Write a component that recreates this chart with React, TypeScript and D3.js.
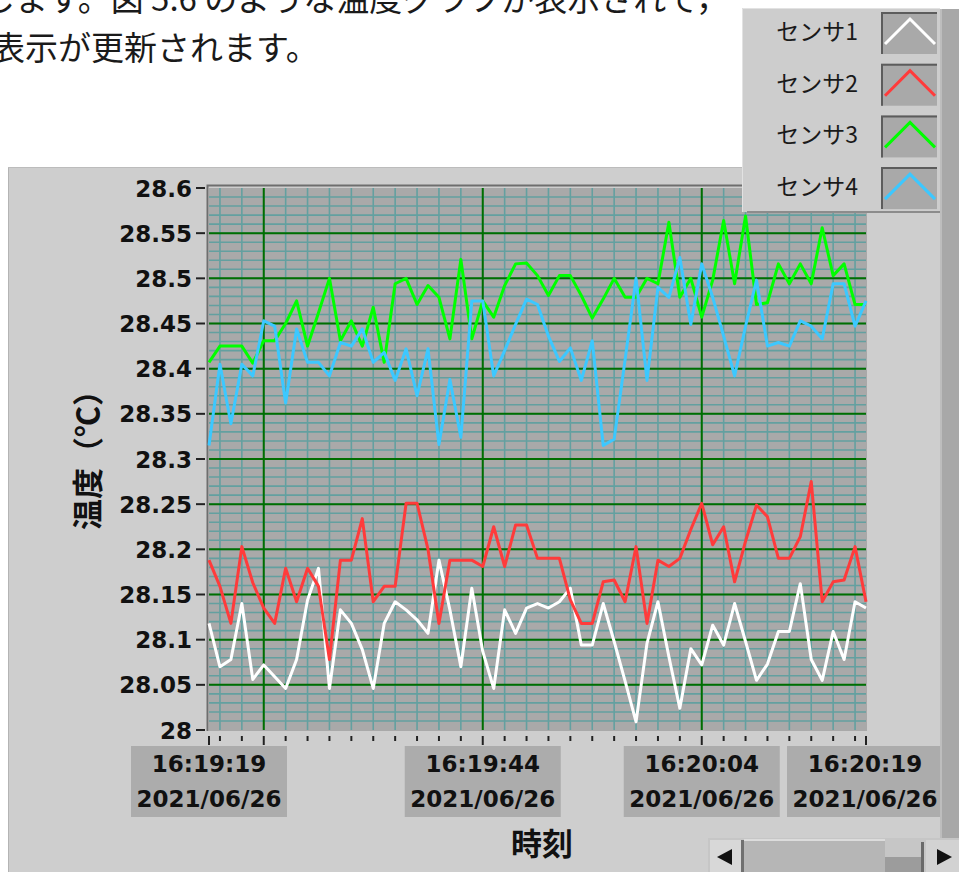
import React, { useEffect, useRef } from 'react'
import * as d3 from 'd3'

// sampling window of the graph (one sample per second)
const startTime = new Date(2021, 5, 26, 16, 19, 19)
const endTime = new Date(2021, 5, 26, 16, 20, 19)

const sensorNames = ['センサ1', 'センサ2', 'センサ3', 'センサ4']
const sensorColors = ['#ffffff', '#ff3b3b', '#00ff00', '#3cc8ff']

const sensor1 = [
  28.118, 28.07, 28.078, 28.14, 28.056, 28.072, 28.059, 28.046, 28.078, 28.144,
  28.179, 28.046, 28.133, 28.118, 28.089, 28.046, 28.118, 28.142, 28.133, 28.122,
  28.107, 28.188, 28.133, 28.07, 28.157, 28.087, 28.046, 28.133, 28.107, 28.135,
  28.14, 28.135, 28.142, 28.157, 28.094, 28.094, 28.14, 28.098, 28.054, 28.009,
  28.096, 28.142, 28.081, 28.024, 28.09, 28.072, 28.116, 28.094, 28.14, 28.098,
  28.055, 28.073, 28.109, 28.109, 28.162, 28.078, 28.055, 28.109, 28.078, 28.142,
  28.135,
]
const sensor2 = [
  28.188, 28.159, 28.118, 28.203, 28.163, 28.135, 28.118, 28.179, 28.142, 28.179,
  28.159, 28.078, 28.188, 28.188, 28.234, 28.142, 28.159, 28.159, 28.251, 28.251,
  28.2, 28.118, 28.188, 28.188, 28.188, 28.181, 28.225, 28.181, 28.227, 28.227,
  28.19, 28.19, 28.19, 28.144, 28.118, 28.118, 28.164, 28.166, 28.142, 28.203,
  28.118, 28.188, 28.181, 28.19, 28.222, 28.251, 28.205, 28.225, 28.164, 28.209,
  28.249, 28.236, 28.19, 28.19, 28.214, 28.275, 28.142, 28.164, 28.166, 28.203,
  28.142,
]
const sensor3 = [
  28.407, 28.425, 28.425, 28.425, 28.406, 28.431, 28.431, 28.45, 28.475, 28.425,
  28.462, 28.5, 28.431, 28.453, 28.425, 28.468, 28.407, 28.494, 28.5, 28.471,
  28.492, 28.479, 28.433, 28.521, 28.433, 28.475, 28.457, 28.492, 28.516, 28.517,
  28.503, 28.481, 28.503, 28.503, 28.481, 28.456, 28.477, 28.5, 28.479, 28.479,
  28.5, 28.494, 28.562, 28.479, 28.5, 28.457, 28.498, 28.564, 28.494, 28.569,
  28.471, 28.473, 28.516, 28.494, 28.516, 28.494, 28.556, 28.503, 28.516, 28.471,
  28.471,
]
const sensor4 = [
  28.315, 28.405, 28.339, 28.405, 28.392, 28.453, 28.447, 28.362, 28.444, 28.407,
  28.407, 28.392, 28.429, 28.425, 28.444, 28.407, 28.418, 28.387, 28.422, 28.37,
  28.422, 28.316, 28.388, 28.324, 28.475, 28.475, 28.392, 28.42, 28.449, 28.477,
  28.471, 28.436, 28.408, 28.423, 28.387, 28.431, 28.315, 28.322, 28.41, 28.5,
  28.387, 28.49, 28.479, 28.523, 28.449, 28.516, 28.479, 28.436, 28.392, 28.447,
  28.498, 28.425, 28.429, 28.425, 28.453, 28.447, 28.433, 28.494, 28.494, 28.447,
  28.475,
]

const yTicks = [28, 28.05, 28.1, 28.15, 28.2, 28.25, 28.3, 28.35, 28.4, 28.45, 28.5, 28.55, 28.6]
const xTickTimes = ['16:19:19', '16:19:44', '16:20:04', '16:20:19']
const xTickDate = '2021/06/26'

const W = 959
const H = 872
const numFont = '"DejaVu Sans", Verdana, sans-serif'
const jpFont = '"Noto Sans CJK JP", "Noto Sans", sans-serif'

export default function App() {
  const svgRef = useRef<SVGSVGElement>(null)

  useEffect(() => {
    if (!svgRef.current) return
    const svg = d3.select(svgRef.current)
    svg.selectAll('*').remove()

    // page text above the graph (cut off by the screenshot)
    svg.append('text').attr('x', -18).attr('y', 11)
      .attr('font-family', jpFont).attr('font-size', 33).attr('fill', '#1a1a1a')
      .text('します。図 5.6 のような温度グラフが表示されて，')
    svg.append('text').attr('x', -8).attr('y', 60)
      .attr('font-family', jpFont).attr('font-size', 33).attr('fill', '#1a1a1a')
      .text('表示が更新されます。')

    // graph panel
    svg.append('rect').attr('x', 8).attr('y', 167).attr('width', W - 8).attr('height', H - 167)
      .attr('fill', '#cecece')
    svg.append('line').attr('x1', 8.5).attr('x2', 8.5).attr('y1', 167).attr('y2', H)
      .attr('stroke', '#b4b4b4').attr('stroke-width', 1)
    svg.append('line').attr('x1', 8).attr('x2', W).attr('y1', 167.5).attr('y2', 167.5)
      .attr('stroke', '#bcbcbc').attr('stroke-width', 1)

    const x = d3.scaleTime().domain([startTime, endTime]).range([209, 866])
    const y = d3.scaleLinear().domain([28, 28.6]).range([730, 188])

    const [x0, x1] = x.range()
    const [yb, yt] = y.range()

    // plot background
    svg.append('rect').attr('x', x0).attr('y', yt).attr('width', x1 - x0 + 1).attr('height', yb - yt + 1)
      .attr('fill', '#a9a9a9')

    const grid = svg.append('g')
    const minorX = d3.timeSecond.every(2)!.range(d3.timeSecond.offset(startTime, 1), endTime)
    const minorY = d3.range(1, 60).map(i => 28 + i * 0.01)

    grid.selectAll('.mx').data(minorX).enter().append('line')
      .attr('x1', d => x(d)).attr('x2', d => x(d)).attr('y1', yt).attr('y2', yb)
      .attr('stroke', '#63a0a0').attr('stroke-width', 1.6)
    grid.selectAll('.my').data(minorY).enter().append('line')
      .attr('x1', x0).attr('x2', x1).attr('y1', d => y(d)).attr('y2', d => y(d))
      .attr('stroke', '#63a0a0').attr('stroke-width', 1.6)

    const majorX = minorX.filter(d => d.getSeconds() % 20 === 4)
    grid.selectAll('.Mx').data(majorX).enter().append('line')
      .attr('x1', d => x(d)).attr('x2', d => x(d)).attr('y1', yt).attr('y2', yb)
      .attr('stroke', '#006e00').attr('stroke-width', 2)
    grid.selectAll('.My').data(yTicks.slice(1, -1)).enter().append('line')
      .attr('x1', x0).attr('x2', x1).attr('y1', d => y(d)).attr('y2', d => y(d))
      .attr('stroke', '#006e00').attr('stroke-width', 2)

    // plot frame (left and top)
    svg.append('path')
      .attr('d', `M${x0 - 1.5},${yb + 1}V${yt - 2.5}H${x1 + 1}`)
      .attr('fill', 'none').attr('stroke', '#6e6e6e').attr('stroke-width', 2)

    // series
    const series = [sensor1, sensor2, sensor3, sensor4]
    const line = d3.line<number>()
      .x((_, i) => x(d3.timeSecond.offset(startTime, i)))
      .y(d => y(d))
    series.forEach((s, k) => {
      svg.append('path').datum(s)
        .attr('d', line)
        .attr('fill', 'none')
        .attr('stroke', sensorColors[k])
        .attr('stroke-width', 3)
        .attr('stroke-linejoin', 'round')
    })

    // y axis ticks and labels
    const yAxis = svg.append('g')
    yTicks.forEach(v => {
      yAxis.append('line').attr('x1', 196).attr('x2', 205).attr('y1', y(v)).attr('y2', y(v))
        .attr('stroke', '#222').attr('stroke-width', 2)
      yAxis.append('text').attr('x', 192).attr('y', y(v) + 8.5)
        .attr('text-anchor', 'end').attr('font-family', numFont).attr('font-weight', 'bold')
        .attr('font-size', 23).attr('fill', '#111')
        .text(String(+v.toFixed(2)))
    })

    // x axis ticks
    const xAxis = svg.append('g')
    const tickTimes = [startTime, ...minorX, endTime]
    tickTimes.forEach(t => {
      const long = t === startTime || t === endTime || majorX.includes(t)
      xAxis.append('line').attr('x1', x(t)).attr('x2', x(t))
        .attr('y1', 736).attr('y2', long ? 745 : 741)
        .attr('stroke', '#222').attr('stroke-width', 2)
    })

    // x tick labels in gray boxes
    xTickTimes.forEach(lbl => {
      const [hh, mm, ss] = lbl.split(':').map(Number)
      const t = new Date(2021, 5, 26, hh, mm, ss)
      const cx = t.getTime() === endTime.getTime() ? x(t) - 1 : x(t)
      const g = xAxis.append('g').attr('transform', `translate(${cx},0)`)
      g.append('rect').attr('x', -78).attr('y', 746).attr('width', 156).attr('height', 71)
        .attr('fill', '#acacac')
      g.append('text').attr('y', 772).attr('text-anchor', 'middle')
        .attr('font-family', numFont).attr('font-weight', 'bold').attr('font-size', 23)
        .attr('fill', '#111').text(lbl)
      g.append('text').attr('y', 807).attr('text-anchor', 'middle')
        .attr('font-family', numFont).attr('font-weight', 'bold').attr('font-size', 23)
        .attr('fill', '#111').text(xTickDate)
    })

    // axis titles
    svg.append('text').attr('transform', 'translate(99,530) rotate(-90)')
      .attr('font-family', jpFont).attr('font-weight', 'bold').attr('font-size', 31)
      .attr('fill', '#111').text('温度（℃）')
    svg.append('text').attr('x', 542).attr('y', 855).attr('text-anchor', 'middle')
      .attr('font-family', jpFont).attr('font-weight', 'bold').attr('font-size', 31)
      .attr('fill', '#111').text('時刻')

    // right strip
    svg.append('rect').attr('x', 940).attr('y', 9).attr('width', 19).attr('height', 829)
      .attr('fill', '#a8a8a8')
    svg.append('line').attr('x1', 941).attr('x2', 941).attr('y1', 9).attr('y2', 838)
      .attr('stroke', '#bdbdbd').attr('stroke-width', 2)

    // horizontal scrollbar
    const sb = svg.append('g')
    sb.append('rect').attr('x', 708).attr('y', 838).attr('width', 251).attr('height', 34).attr('fill', '#c6c6c6')
    sb.append('rect').attr('x', 710).attr('y', 840).attr('width', 31).attr('height', 32).attr('fill', '#d8d8d8')
    sb.append('path').attr('d', 'M717,857L732,849V865Z').attr('fill', '#111')
    sb.append('rect').attr('x', 741).attr('y', 840).attr('width', 3).attr('height', 32).attr('fill', '#707070')
    sb.append('rect').attr('x', 744).attr('y', 840).attr('width', 141).attr('height', 32).attr('fill', '#b6b6b6')
    sb.append('rect').attr('x', 744).attr('y', 839).attr('width', 141).attr('height', 2).attr('fill', '#dcdcdc')
    sb.append('rect').attr('x', 885).attr('y', 857).attr('width', 36).attr('height', 15).attr('fill', '#9c9c9c')
    sb.append('rect').attr('x', 921).attr('y', 842).attr('width', 3).attr('height', 30).attr('fill', '#6a6a6a')
    sb.append('rect').attr('x', 926).attr('y', 840).attr('width', 33).attr('height', 32).attr('fill', '#d2d2d2')
    sb.append('path').attr('d', 'M952,857L937,849V865Z').attr('fill', '#111')

    // legend
    const lg = svg.append('g')
    lg.append('rect').attr('x', 742).attr('y', 8).attr('width', 198).attr('height', 204).attr('fill', '#cdcdcd')
    lg.append('path').attr('d', 'M742.5,212V8.5H940').attr('fill', 'none').attr('stroke', '#e2e2e2')
    lg.append('rect').attr('x', 747).attr('y', 211).attr('width', 193).attr('height', 2).attr('fill', '#8c8c8c')
    sensorNames.forEach((name, k) => {
      const top = 12 + k * 51.7
      lg.append('text').attr('x', 858).attr('y', top + 28)
        .attr('text-anchor', 'end').attr('font-family', jpFont).attr('font-size', 23)
        .attr('fill', '#1a1a1a').text(name)
      lg.append('rect').attr('x', 881).attr('y', top).attr('width', 56).attr('height', 42)
        .attr('fill', '#a9a9a9')
      lg.append('path').attr('d', `M882,${top + 42}V${top + 1}H937`)
        .attr('fill', 'none').attr('stroke', '#5c5c5c').attr('stroke-width', 2)
      lg.append('path').attr('d', `M885,${top + 32}L910,${top + 7}L935,${top + 32}`)
        .attr('fill', 'none').attr('stroke', sensorColors[k]).attr('stroke-width', 3)
    })
  }, [])

  return (
    <div style={{ position: 'fixed', left: 0, top: 0 }}>
      <svg ref={svgRef} width={W} height={H} style={{ display: 'block', background: '#fff' }} />
    </div>
  )
}
